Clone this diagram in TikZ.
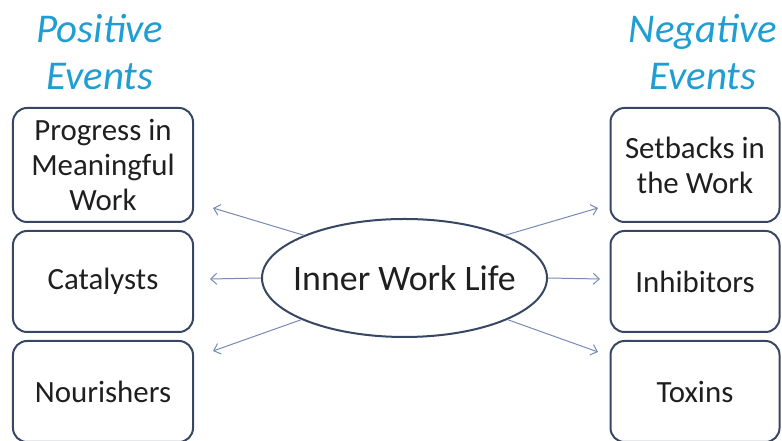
\documentclass[tikz,border=0pt]{standalone}
\usepackage{fontspec}
\setmainfont{Carlito}
\usepackage{xcolor}
\usetikzlibrary{shapes.geometric, positioning, arrows.meta}
\definecolor{evtitle}{RGB}{31,158,211}
\definecolor{evedge}{RGB}{55,70,98}
\definecolor{linkcol}{RGB}{118,138,180}

\begin{document}
\begin{tikzpicture}[x=1bp,y=1bp,
  evbox/.style={draw=evedge, line width=2bp, rounded corners=14bp,
    minimum height=101bp, align=center, inner sep=1bp,
    font=\fontsize{31}{35}\selectfont, text=black!88},
  evtitle/.style={align=center, text=evtitle,
    font=\fontsize{41}{47}\selectfont\itshape},
  link/.style={draw=linkcol, line width=1bp,
    -{Straight Barb[length=6bp,width=11bp]}}]
\useasboundingbox (0,0) rectangle (782,441);
%titles
\node[evtitle] (postitle) at (100,389) {Positive\\Events};
\node[evtitle] (negtitle) at (703,389) {Negative\\Events};
%left column
\node[evbox, minimum width=180bp, minimum height=114bp] (progress) at (103,276)
  {Progress in\\Meaningful\\Work};
\node[evbox, minimum width=180bp, below=7bp of progress] (catalysts) {Catalysts};
\node[evbox, minimum width=180bp, below=7bp of catalysts] (nourishers) {Nourishers};
%right column
\node[evbox, minimum width=169bp, minimum height=114bp] (setbacks) at (695,276)
  {Setbacks in\\the Work};
\node[evbox, minimum width=169bp, below=7bp of setbacks] (inhibitors) {Inhibitors};
\node[evbox, minimum width=169bp, below=7bp of inhibitors] (toxins) {Toxins};
%centre
\node[ellipse, draw=evedge, line width=2bp, minimum width=285bp,
  minimum height=118bp, inner sep=0pt, font=\fontsize{36}{40}\selectfont,
  text=black!88] (iwl) at (404.5,163) {\makebox[0pt]{Inner Work Life}};
%arrow tips
\coordinate (tipa) at (213,233);
\coordinate (tipb) at (210,162);
\coordinate (tipc) at (213,90);
\coordinate (tipd) at (598,233);
\coordinate (tipe) at (600,162);
\coordinate (tipf) at (598,89);
\draw[link] (iwl.157) -- (tipa);
\draw[link] (iwl.west) -- (tipb);
\draw[link] (iwl.202) -- (tipc);
\draw[link] (iwl.23) -- (tipd);
\draw[link] (iwl.east) -- (tipe);
\draw[link] (iwl.-22) -- (tipf);
\end{tikzpicture}
\end{document}
